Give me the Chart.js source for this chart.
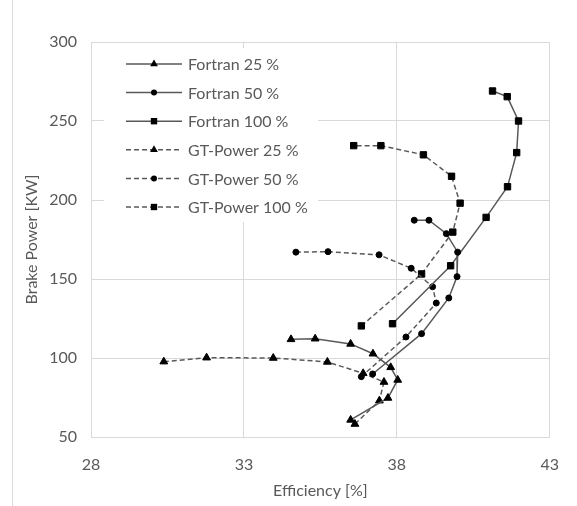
<!DOCTYPE html>
<html>
<head>
<meta charset="utf-8">
<title>Brake Power vs Efficiency</title>
<script src="https://cdn.jsdelivr.net/npm/chart.js@4.4.1/dist/chart.umd.min.js"></script>
<style>
    html, body { margin: 0; padding: 0; background: #fff; }
    #chart { display: block; }
</style>
</head>
<body>
<canvas id="chart" width="577" height="506"></canvas>
<script>
// Efficiency [%] and brake power [KW], one pair per series
const fortran25Eff = [34.54, 35.33, 36.49, 37.22, 37.80, 38.03, 37.71, 36.49];
const fortran25Power = [111.8, 112.2, 108.9, 102.7, 94.1, 86.1, 74.7, 60.8];
const fortran50Eff = [38.57, 39.05, 39.62, 39.99, 39.97, 39.70, 38.81, 37.21];
const fortran50Power = [187.2, 187.2, 178.7, 167.0, 151.5, 138.0, 115.4, 89.9];
const fortran100Eff = [37.86, 39.76, 40.92, 41.62, 41.92, 41.98, 41.61, 41.13];
const fortran100Power = [121.7, 158.4, 189.0, 208.4, 230.0, 250.0, 265.4, 269.0];
const gt25Eff = [30.38, 31.78, 33.96, 35.73, 36.90, 37.58, 37.43, 36.63];
const gt25Power = [97.7, 100.2, 100.0, 97.5, 90.3, 84.8, 73.0, 58.2];
const gt50Eff = [34.70, 35.75, 37.42, 38.47, 39.17, 39.29, 38.30, 36.84];
const gt50Power = [167.0, 167.3, 165.3, 156.8, 145.1, 134.8, 113.3, 88.2];
const gt100Eff = [36.84, 38.81, 39.83, 40.07, 39.79, 38.87, 37.48, 36.59];
const gt100Power = [120.3, 153.2, 179.7, 198.0, 215.0, 228.6, 234.4, 234.4];

const seriesNames = ['Fortran 25 %', 'Fortran 50 %', 'Fortran 100 %', 'GT-Power 25 %', 'GT-Power 50 %', 'GT-Power 100 %'];
const xTicks = [28, 33, 38, 43];
const yTicks = [50, 100, 150, 200, 250, 300];

(function () {
    'use strict';

    const LINE = '#595959';
    const MARK = '#000000';
    const TEXT = '#595959';
    const GRID = '#d9d9d9';

    /**
     * Zip two value arrays into {x, y} points
     */
    function toPoints(xs, ys) {
        return xs.map((x, i) => ({ x: x, y: ys[i] }));
    }

    /**
     * Build one scatter-with-line dataset
     */
    function makeSeries(label, xs, ys, style, radius, dashed) {
        return {
            label: label,
            data: toPoints(xs, ys),
            showLine: true,
            borderColor: LINE,
            borderWidth: 1.5,
            borderDash: dashed ? [5, 3] : [],
            pointStyle: style,
            pointRadius: radius,
            pointHoverRadius: radius,
            pointBackgroundColor: MARK,
            pointBorderColor: MARK,
            pointBorderWidth: 1,
            tension: 0
        };
    }

    const datasets = [
        makeSeries(seriesNames[0], fortran25Eff, fortran25Power, 'triangle', 4.5, false),
        makeSeries(seriesNames[1], fortran50Eff, fortran50Power, 'circle', 3, false),
        makeSeries(seriesNames[2], fortran100Eff, fortran100Power, 'rect', 4.5, false),
        makeSeries(seriesNames[3], gt25Eff, gt25Power, 'triangle', 4.5, true),
        makeSeries(seriesNames[4], gt50Eff, gt50Power, 'circle', 3, true),
        makeSeries(seriesNames[5], gt100Eff, gt100Power, 'rect', 4.5, true)
    ];

    /**
     * Draw a single legend marker in the same shape as the dataset
     */
    function drawMarker(ctx, style, r, x, y) {
        ctx.beginPath();
        if (style === 'triangle') {
            ctx.moveTo(x, y - r);
            ctx.lineTo(x + r * 0.866, y + r * 0.5);
            ctx.lineTo(x - r * 0.866, y + r * 0.5);
            ctx.closePath();
        } else if (style === 'rect') {
            const s = Math.SQRT1_2 * r;
            ctx.rect(x - s, y - s, 2 * s, 2 * s);
        } else {
            ctx.arc(x, y, r, 0, Math.PI * 2);
        }
        ctx.fillStyle = MARK;
        ctx.fill();
    }

    // Excel style legend: line sample with marker, inside the plot area
    const legendPlugin = {
        id: 'excelLegend',
        afterDraw(chart) {
            const ctx = chart.ctx;
            ctx.save();
            ctx.fillStyle = '#ffffff';
            ctx.fillRect(104, 48, 214, 174);

            chart.data.datasets.forEach((ds, i) => {
                const y = 64 + i * 28.6;
                ctx.strokeStyle = LINE;
                ctx.lineWidth = 1.5;
                ctx.setLineDash(ds.borderDash);
                ctx.beginPath();
                ctx.moveTo(126, y);
                ctx.lineTo(182, y);
                ctx.stroke();
                ctx.setLineDash([]);
                drawMarker(ctx, ds.pointStyle, ds.pointRadius, 154, y);

                ctx.fillStyle = TEXT;
                ctx.font = '16px Lato';
                ctx.textAlign = 'left';
                ctx.textBaseline = 'middle';
                ctx.fillText(ds.label, 188, y + 1);
            });
            ctx.restore();
        },
        beforeDraw(chart) {
            // left edge of the chart frame
            const ctx = chart.ctx;
            ctx.save();
            ctx.fillStyle = '#ffffff';
            ctx.fillRect(0, 0, chart.width, chart.height);
            ctx.strokeStyle = GRID;
            ctx.lineWidth = 1;
            ctx.beginPath();
            ctx.moveTo(12.5, 0);
            ctx.lineTo(12.5, chart.height);
            ctx.stroke();
            ctx.restore();
        }
    };

    Chart.defaults.font.family = 'Lato, "Open Sans", sans-serif';
    Chart.defaults.font.size = 16;
    Chart.defaults.color = TEXT;

    new Chart(document.getElementById('chart'), {
        type: 'scatter',
        data: { datasets: datasets },
        options: {
            responsive: false,
            animation: false,
            layout: { padding: { left: 18, top: 42, right: 18, bottom: 0 } },
            plugins: {
                legend: { display: false },
                tooltip: { enabled: false }
            },
            scales: {
                x: {
                    type: 'linear',
                    min: xTicks[0],
                    max: xTicks[xTicks.length - 1],
                    afterBuildTicks: (axis) => { axis.ticks = xTicks.map(v => ({ value: v })); },
                    afterFit: (axis) => { axis.height = 69; },
                    grid: { color: GRID, drawTicks: false },
                    border: { color: GRID },
                    ticks: { padding: 18 },
                    title: { display: true, text: 'Efficiency [%]', padding: { top: 0, bottom: 6 } }
                },
                y: {
                    type: 'linear',
                    min: yTicks[0],
                    max: yTicks[yTicks.length - 1],
                    afterBuildTicks: (axis) => { axis.ticks = yTicks.map(v => ({ value: v })); },
                    afterFit: (axis) => { axis.width = 73; },
                    grid: { color: GRID, drawTicks: false },
                    border: { color: GRID },
                    ticks: { padding: 14 },
                    title: { display: true, text: 'Brake Power [KW]', padding: { top: 4, bottom: 0 } }
                }
            }
        },
        plugins: [legendPlugin]
    });
})();
</script>
</body>
</html>
